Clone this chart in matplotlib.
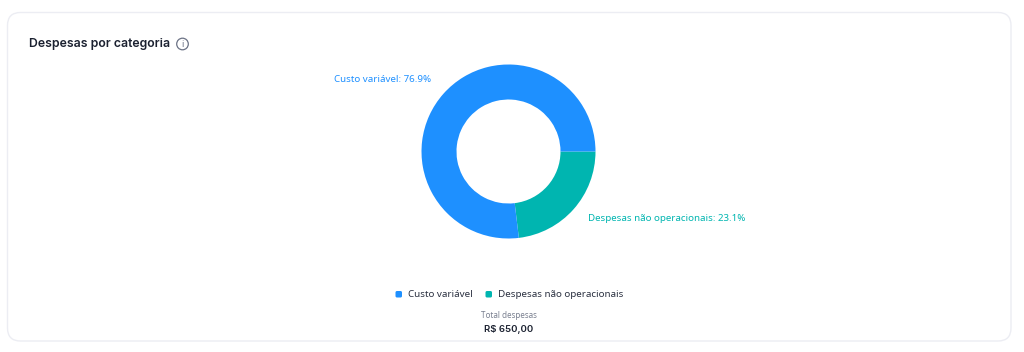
#! /usr/bin/env python3

import matplotlib
matplotlib.use("Agg")
import matplotlib.pyplot as plt
from matplotlib.patches import FancyBboxPatch, Circle

categories = ["Custo variável", "Despesas não operacionais"]
shares = [76.9, 23.1]
colors = ["#1E90FF", "#00B5B0"]
title = "Despesas por categoria"
total_label = "Total despesas"
total_value = "R$ 650,00"

W, H = 1024, 352
plt.rcParams['font.family'] = ['Noto Sans', 'DejaVu Sans']

fig = plt.figure(figsize=(W / 100, H / 100), dpi=100, facecolor="white")

# background layer in pixel coordinates
bg = fig.add_axes([0, 0, 1, 1])
bg.set_xlim(0, W)
bg.set_ylim(H, 0)
bg.axis("off")

# card
card = FancyBboxPatch((7.5, 12.5), 1003.5, 328.5, boxstyle="round,pad=0,rounding_size=13",
                      facecolor="white", edgecolor="#ECEDF3", linewidth=1)
bg.add_patch(card)

# Noto Sans has no bold here, Inter does
bg.text(29, 44.5, title, fontsize=8.85, fontweight="semibold", family="Inter", color="#1B2130", ha="left", va="center")

# info icon
bg.add_patch(Circle((182.5, 44), 5.8, facecolor="none", edgecolor="#6B7285", linewidth=0.9))
bg.text(182.5, 44.2, "i", fontsize=6.5, color="#6B7285", ha="center", va="center")

# donut: teal runs clockwise from the east, blue takes the rest
cx, cy, r = 508.5, 151.5, 87
pie_ax = fig.add_axes([(cx - r) / W, 1 - (cy + r) / H, 2 * r / W, 2 * r / H])
pie_ax.pie(shares[::-1], colors=colors[::-1], startangle=0, counterclock=False, radius=1,
           wedgeprops=dict(width=35 / 87, linewidth=0))
pie_ax.set_xlim(-1, 1)
pie_ax.set_ylim(-1, 1)
pie_ax.set_aspect("equal")

# data labels
bg.text(431, 79.5, f"{categories[0]}: {shares[0]}%", fontsize=7.0, color=colors[0], ha="right", va="center")
bg.text(588, 218.5, f"{categories[1]}: {shares[1]}%", fontsize=7.0, color=colors[1], ha="left", va="center")

# legend
bg.add_patch(FancyBboxPatch((395.5, 291), 6.5, 6.5, boxstyle="round,pad=0,rounding_size=1.5",
                            facecolor=colors[0], edgecolor="none"))
bg.text(407.5, 294.5, categories[0], fontsize=7.05, color="#2A3040", ha="left", va="center")
bg.add_patch(FancyBboxPatch((485.5, 291), 6.5, 6.5, boxstyle="round,pad=0,rounding_size=1.5",
                            facecolor=colors[1], edgecolor="none"))
bg.text(498, 294.5, categories[1], fontsize=7.05, color="#2A3040", ha="left", va="center")

# total
bg.text(509, 315, total_label, fontsize=5.8, color="#7A8090", ha="center", va="center")
bg.text(509, 329, total_value, fontsize=6.9, fontweight="semibold", family="Inter", color="#1B2130", ha="center", va="center")

fig.savefig("out.png", dpi=100)
